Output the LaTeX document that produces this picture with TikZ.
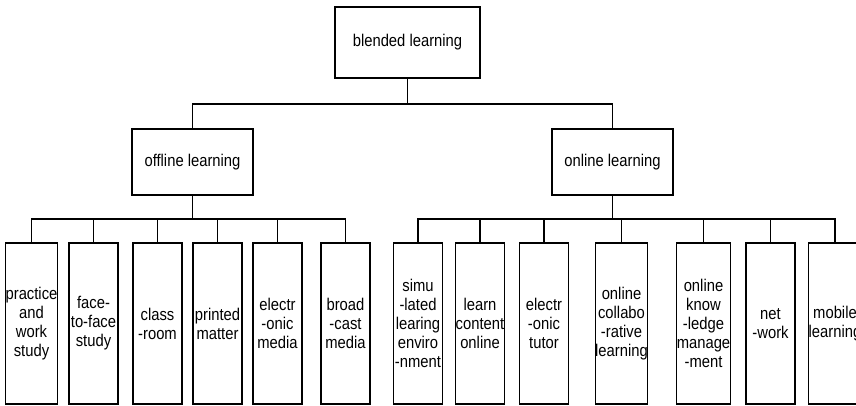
\documentclass[tikz,border=0pt]{standalone}
\usepackage{fontspec}
\setmainfont[FakeStretch=0.87]{Liberation Sans}
\begin{document}
\begin{tikzpicture}[x=1pt,y=-1pt,
  box/.style={draw,line width=1.3pt,rectangle,inner sep=0pt,align=center,
    font=\fontsize{17}{19}\selectfont},
  leaf/.style={box,minimum width=49pt,minimum height=161pt},
  mid/.style={box,minimum width=121pt,minimum height=66pt},
  link/.style={line width=1.1pt}]
\useasboundingbox (0,0) rectangle (856,406);
\node[box,minimum width=145pt,minimum height=71pt] (top) at (407.5,42.5) {blended learning};
\node[mid] (off) at (192.5,162) {offline learning};
\node[mid] (on) at (612.5,162) {online learning};
\coordinate (b1) at (407.5,104);
\coordinate (offbus) at (192.5,219);
\coordinate (onbus) at (612.5,219);
\node[leaf] (c1) at (31.5,323.5) {practice\\and\\work\\study};
\node[leaf] (c2) at (93.5,323.5) {face-\\to-face\\study};
\node[leaf] (c3) at (157.5,323.5) {class\\-room};
\node[leaf] (c4) at (217.5,323.5) {printed\\matter};
\node[leaf] (c5) at (277.5,323.5) {electr\\-onic\\media};
\node[leaf] (c6) at (345.5,323.5) {broad\\-cast\\media};
\node[leaf] (c7) at (418,323.5) {simu\\-lated\\learing\\enviro\\-nment};
\node[leaf] (c8) at (480,323.5) {learn\\content\\online};
\node[leaf] (c9) at (544,323.5) {electr\\-onic\\tutor};
\node[leaf] (c10) at (621.5,323.5) {online\\collabo\\-rative\\learning};
\node[leaf] (c11) at (703.5,323.5) {online\\know\\-ledge\\manage\\-ment};
\node[leaf] (c12) at (770.5,323.5) {net\\-work};
\node[leaf] (c13) at (835,323.5) {mobile\\learning};
\draw[link] (top.south) -- (b1);
\draw[link] (off.north) |- (b1) -| (on.north);
\draw[link] (off.south) -- (offbus);
\draw[link] (on.south) -- (onbus);
\foreach \c in {c1,c2,c3,c4,c5,c6} \draw[link] (\c.north) |- (offbus);
\foreach \c in {c7,c8,c9,c10,c11,c12,c13} \draw[link] (\c.north) |- (onbus);
\draw[link,line width=1.8pt] (c8.north |- onbus) -- (c13.north |- onbus);
\end{tikzpicture}
\end{document}
